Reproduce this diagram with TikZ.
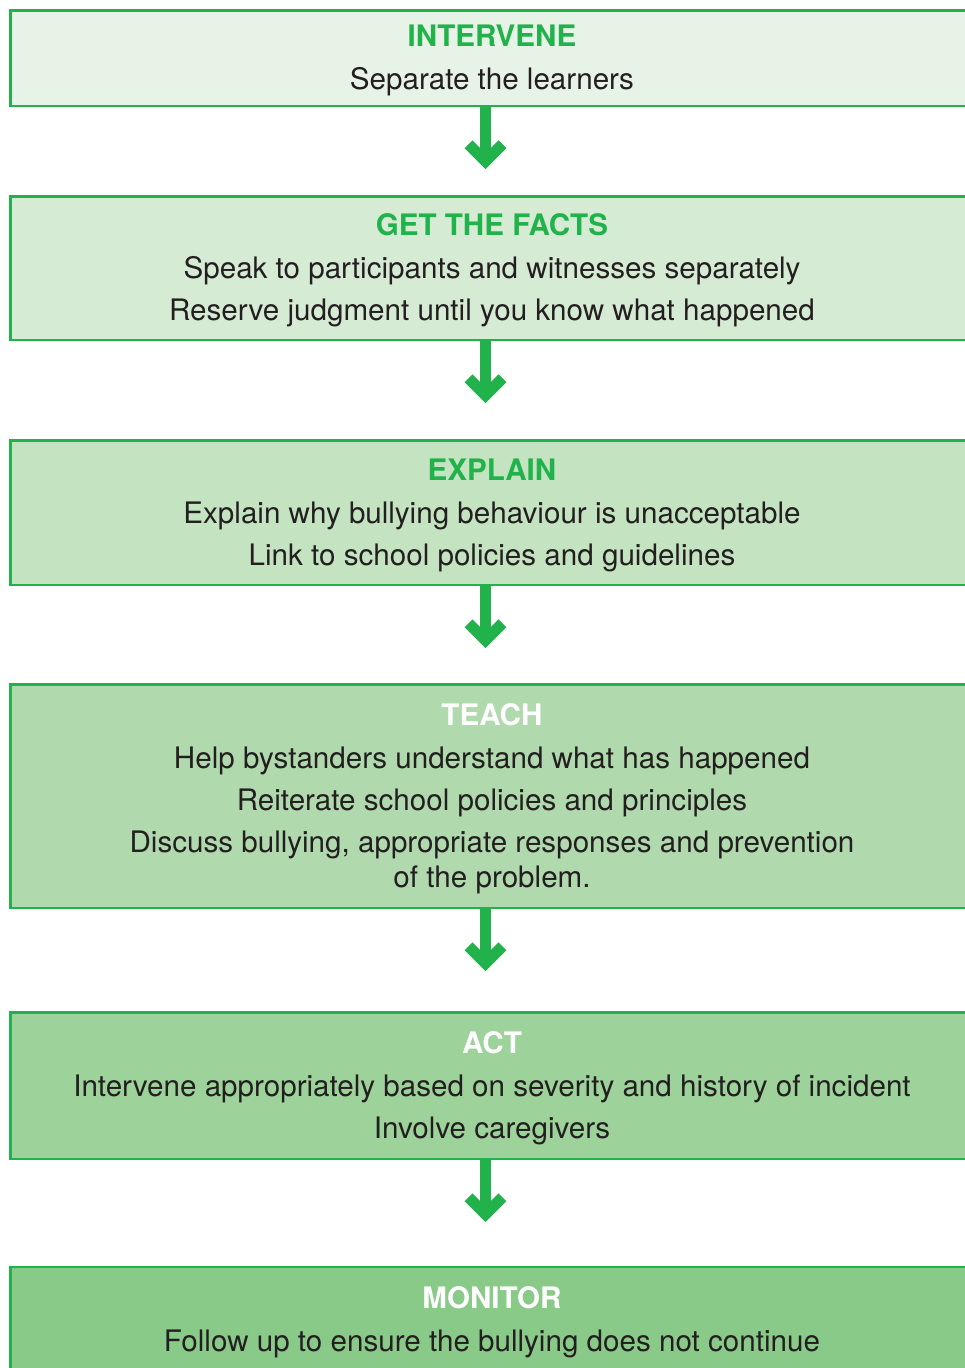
\documentclass[tikz,border=0pt]{standalone}
\usepackage{fontspec}
\setmainfont{TeX Gyre Heros}
\usetikzlibrary{calc}
\definecolor{stagegreen}{RGB}{34,178,76}
\definecolor{textdark}{RGB}{35,31,32}
\definecolor{shade1}{RGB}{232,243,231}
\definecolor{shade2}{RGB}{214,235,211}
\definecolor{shade3}{RGB}{196,227,192}
\definecolor{shade4}{RGB}{176,217,173}
\definecolor{shade5}{RGB}{157,210,154}
\definecolor{shade6}{RGB}{138,202,136}
\tikzset{
  stagebox/.style={draw=stagegreen, line width=2.5pt, minimum width=963.5pt,
    inner sep=0pt, align=center, text=textdark,
    font=\fontsize{29.6}{35}\selectfont},
  shaft/.style={stagegreen, line width=11pt},
  barb/.style={stagegreen, line width=11pt, line join=miter},
}
\newcommand{\greentitle}[1]{\rule{0pt}{27pt}\textcolor{stagegreen}{\bfseries #1}}
\newcommand{\whitetitle}[1]{\rule{0pt}{27pt}\textcolor{white}{\bfseries #1}}

\begin{document}
\begin{tikzpicture}[x=1pt,y=-1pt]
\useasboundingbox (0,0) rectangle (964,1368);
% stages, top to bottom
\node[stagebox, fill=shade1, minimum height=95.5pt] (intervene) at (492,58)
  {\greentitle{INTERVENE}\\[8pt] Separate the learners};
\node[stagebox, fill=shade2, minimum height=143.5pt] (facts) at (492,268)
  {\greentitle{GET THE FACTS}\\[8pt] Speak to participants and witnesses separately\\[7pt]
   Reserve judgment until you know what happened};
\node[stagebox, fill=shade3, minimum height=144.5pt] (explain) at (492,512.5)
  {\greentitle{EXPLAIN}\\[8pt] Explain why bullying behaviour is unacceptable\\[7pt]
   Link to school policies and guidelines};
\node[stagebox, fill=shade4, minimum height=223.5pt] (teach) at (492,796)
  {\whitetitle{TEACH}\\[8pt] Help bystanders understand what has happened\\[7pt]
   Reiterate school policies and principles\\[7pt]
   Discuss bullying, appropriate responses and prevention\\ of the problem.};
\node[stagebox, fill=shade5, minimum height=146.5pt] (act) at (492,1085.5)
  {\whitetitle{ACT}\\[8pt] Intervene appropriately based on severity and history of incident\\[7pt]
   Involve caregivers};
\node[stagebox, fill=shade6, minimum height=106.5pt] (monitor) at (492,1320)
  {\whitetitle{MONITOR}\\[8pt] Follow up to ensure the bullying does not continue};
% down arrows between stages
\foreach \n in {intervene,facts,explain,teach,act}{
  \draw[shaft] ([xshift=-6.5pt]\n.south) -- ++(0,50);
  \draw[barb] ([xshift=-23.5pt]\n.south) ++(0,37.25) -- ++(17,17) -- ++(17,-17);
}
\end{tikzpicture}
\end{document}
